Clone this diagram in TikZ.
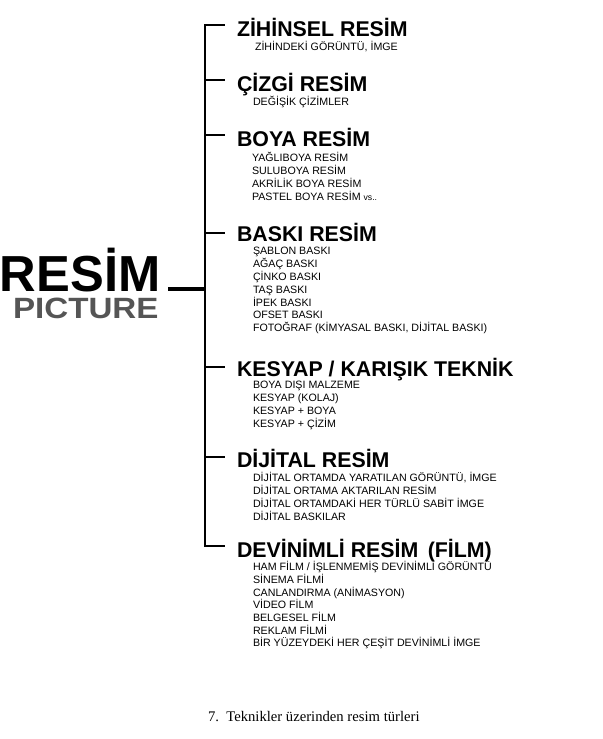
\documentclass[tikz,border=0pt]{standalone}
\usepackage{fontspec}
\setmainfont{Liberation Sans}
\newfontfamily\capfont{Liberation Serif}
\definecolor{picgray}{RGB}{85,85,85}
\begin{document}
\begin{tikzpicture}[x=0.75pt,y=0.75pt,yscale=-1,xscale=1,
  head/.style={anchor=base west,inner sep=0pt,font=\fontsize{16}{19}\selectfont\bfseries},
  item/.style={anchor=base west,inner sep=0pt,font=\fontsize{8}{9.7}\selectfont},
  stem/.style={line width=1.5pt},
  rootline/.style={line width=2.3pt}]
\path (0,0) rectangle (600,739); %set diagram size 600 x 739

% Text Node
\node [anchor=base west,inner sep=0pt,font=\fontsize{38}{40}\selectfont\bfseries] (resim) at (-3,291) {RESİM};
% Text Node
\node [anchor=base west,inner sep=0pt,font=\fontsize{22}{24}\selectfont\bfseries,text=picgray,xscale=1.13] (picture) at (10,318) {PICTURE};

% Text Node
\node [head] (zih) at (234,36) {ZİHİNSEL RESİM};
\node [item] (zih1) at (252,50) {ZİHİNDEKİ GÖRÜNTÜ, İMGE};
% Text Node
\node [head] (ciz) at (234,91) {ÇİZGİ RESİM};
\node [item] (ciz1) at (250,105) {DEĞİŞİK ÇİZİMLER};
% Text Node
\node [head] (boya) at (234,146) {BOYA RESİM};
\foreach \t [count=\i] in {YAĞLIBOYA RESİM,SULUBOYA RESİM,AKRİLİK BOYA RESİM,PASTEL BOYA RESİM {\fontsize{6.5}{8}\selectfont vs..}}
  \node [item] (boya\i) at (249,148+13*\i) {\t};
% Text Node
\node [head] (baski) at (234,241) {BASKI RESİM};
\foreach \t [count=\i] in {ŞABLON BASKI,AĞAÇ BASKI,ÇİNKO BASKI,TAŞ BASKI,İPEK BASKI,OFSET BASKI,{FOTOĞRAF (KİMYASAL BASKI, DİJİTAL BASKI)}}
  \node [item] (baski\i) at (250,242+12.8*\i) {\t};
% Text Node
\node [head] (kes) at (234,376) {KESYAP / KARIŞIK TEKNİK};
\foreach \t [count=\i] in {BOYA DIŞI MALZEME,KESYAP (KOLAJ),KESYAP + BOYA,KESYAP + ÇİZİM}
  \node [item] (kes\i) at (250,375+13*\i) {\t};
% Text Node
\node [head] (dij) at (234,467) {DİJİTAL RESİM};
\foreach \t [count=\i] in {{DİJİTAL ORTAMDA YARATILAN GÖRÜNTÜ, İMGE},DİJİTAL ORTAMA AKTARILAN RESİM,DİJİTAL ORTAMDAKİ HER TÜRLÜ SABİT İMGE,DİJİTAL BASKILAR}
  \node [item] (dij\i) at (250,468+13*\i) {\t};
% Text Node
\node [head] (dev) at (234,557) {DEVİNİMLİ RESİM {\,}(FİLM)};
\foreach \t [count=\i] in {HAM FİLM / İŞLENMEMİŞ DEVİNİMLİ GÖRÜNTÜ,SİNEMA FİLMİ,CANLANDIRMA (ANİMASYON),VİDEO FİLM,BELGESEL FİLM,REKLAM FİLMİ,BİR YÜZEYDEKİ HER ÇEŞİT DEVİNİMLİ İMGE}
  \node [item] (dev\i) at (250,558+12.7*\i) {\t};

%Straight Lines
\coordinate (rootJ) at (202,289);
\coordinate (zihJ) at (202,25);
\coordinate (cizJ) at (202,80);
\coordinate (boyaJ) at (202,135);
\coordinate (baskiJ) at (202,233);
\coordinate (kesJ) at (202,367);
\coordinate (dijJ) at (202,457);
\coordinate (devJ) at (202,546);
\draw [rootline] ([xshift=5.5pt]resim.east |- rootJ) -- (rootJ);
\draw [stem] ([xshift=-9pt]zih.west |- zihJ) -- (zihJ) -- (devJ) -- ([xshift=-9pt]dev.west |- devJ);
\foreach \n in {ciz,boya,baski,kes,dij}
  \draw [stem] (\n J) -- ([xshift=-9pt]\n.west |- \n J);

% Caption
\node [anchor=base west,inner sep=0pt,font=\capfont\fontsize{11}{13}\selectfont] (caption) at (205,721) {7.\ \ Teknikler üzerinden resim türleri};
\end{tikzpicture}
\end{document}
